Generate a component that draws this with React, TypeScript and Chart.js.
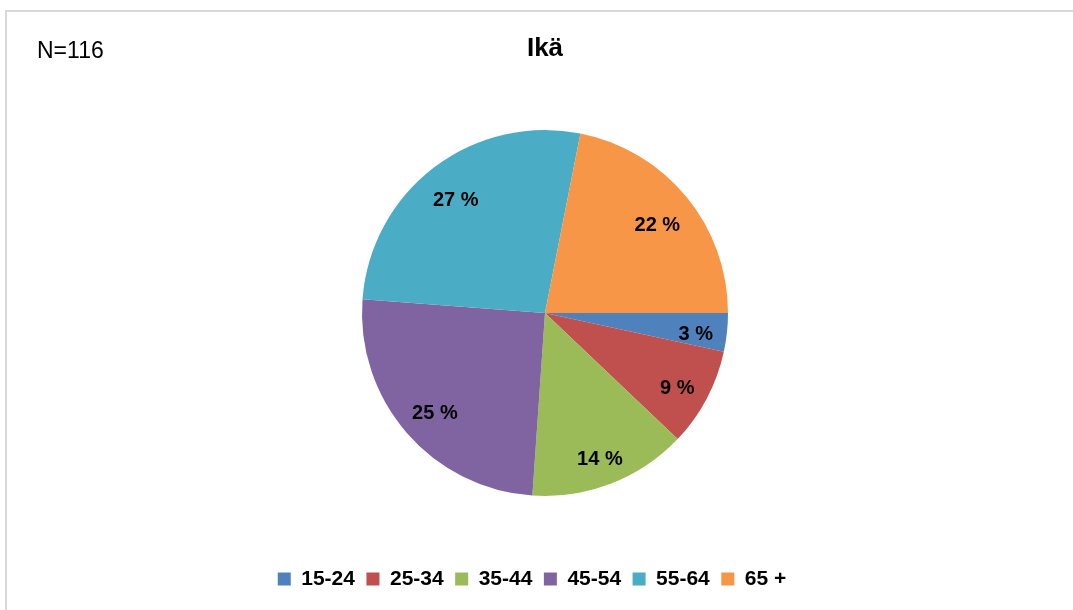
import React, { useEffect, useRef } from "react";
import { Chart, registerables } from "chart.js";

Chart.register(...registerables);

const categories = ["15-24", "25-34", "35-44", "45-54", "55-64", "65 +"];
const shares = [3.4, 8.7, 14.0, 25.1, 26.9, 21.9];
const sampleLabel = "N=116";
const titleText = "Ikä";
const colors = ["#4F81BD", "#C0504D", "#9BBB59", "#8064A2", "#4BACC6", "#F79646"];

const FONT = "'Liberation Sans', Arial, sans-serif";

export default function App() {
  const ref = useRef<HTMLCanvasElement | null>(null);

  useEffect(() => {
    if (!ref.current) return;
    const total = shares.reduce((a, b) => a + b, 0);

    const labelPlugin = {
      id: "pctLabels",
      afterDatasetsDraw(chart: any) {
        const ctx = chart.ctx;
        const meta = chart.getDatasetMeta(0);
        ctx.save();
        ctx.font = `bold 20px ${FONT}`;
        ctx.fillStyle = "#000";
        ctx.textAlign = "center";
        ctx.textBaseline = "middle";
        meta.data.forEach((arc: any, i: number) => {
          const p = arc.getProps(["x", "y", "startAngle", "endAngle", "outerRadius"], true);
          const mid = (p.startAngle + p.endAngle) / 2;
          const text = `${Math.round((shares[i] / total) * 100)} %`;
          const w = ctx.measureText(text).width;
          const h = 22;
          const reach = p.outerRadius - 13;
          const d = reach - (w / 2) * Math.abs(Math.cos(mid)) - (h / 2) * Math.abs(Math.sin(mid));
          ctx.fillText(text, p.x + Math.cos(mid) * d, p.y + Math.sin(mid) * d + 5);
        });
        ctx.restore();
      },
    };

    const extrasPlugin = {
      id: "extras",
      afterLayout(chart: any) {
        const lg = chart.legend;
        if (lg) {
          lg.left -= 13;
          lg.right -= 13;
        }
      },
      afterDraw(chart: any) {
        const ctx = chart.ctx;
        ctx.save();
        ctx.font = `23px ${FONT}`;
        ctx.fillStyle = "#000";
        ctx.textAlign = "left";
        ctx.textBaseline = "alphabetic";
        ctx.fillText(sampleLabel, 37, 58);
        ctx.restore();
      },
    };

    const chart = new Chart(ref.current, {
      type: "pie",
      data: {
        labels: categories,
        datasets: [
          {
            data: shares,
            backgroundColor: colors,
            borderWidth: 0,
            radius: 183,
          },
        ],
      },
      options: {
        responsive: false,
        animation: false,
        rotation: 90,
        layout: { padding: { left: 17, right: 0, top: 0, bottom: 10.5 } },
        plugins: {
          title: {
            display: true,
            text: titleText,
            color: "#000",
            font: { family: FONT, size: 26, weight: "bold", lineHeight: 1.2 },
            padding: { top: 33, bottom: 4.8 },
          },
          legend: {
            display: true,
            position: "bottom",
            labels: {
              color: "#000",
              font: { family: FONT, size: 21, weight: "bold" },
              boxWidth: 13,
              boxHeight: 13,
              padding: 11.5,
            },
          },
          tooltip: { enabled: false },
        },
      },
      plugins: [labelPlugin, extrasPlugin],
    });
    return () => chart.destroy();
  }, []);

  return (
    <div style={{ position: "absolute", left: 0, top: 0, width: 1073, height: 610, overflow: "hidden", background: "#fff" }}>
      <div
        style={{
          position: "absolute",
          left: 5,
          top: 10,
          width: 1100,
          height: 620,
          borderTop: "2px solid #d9d9d9",
          borderLeft: "2px solid #d9d9d9",
        }}
      />
      <canvas ref={ref} width={1073} height={610} style={{ position: "absolute", left: 0, top: 0, display: "block" }} />
    </div>
  );
}
